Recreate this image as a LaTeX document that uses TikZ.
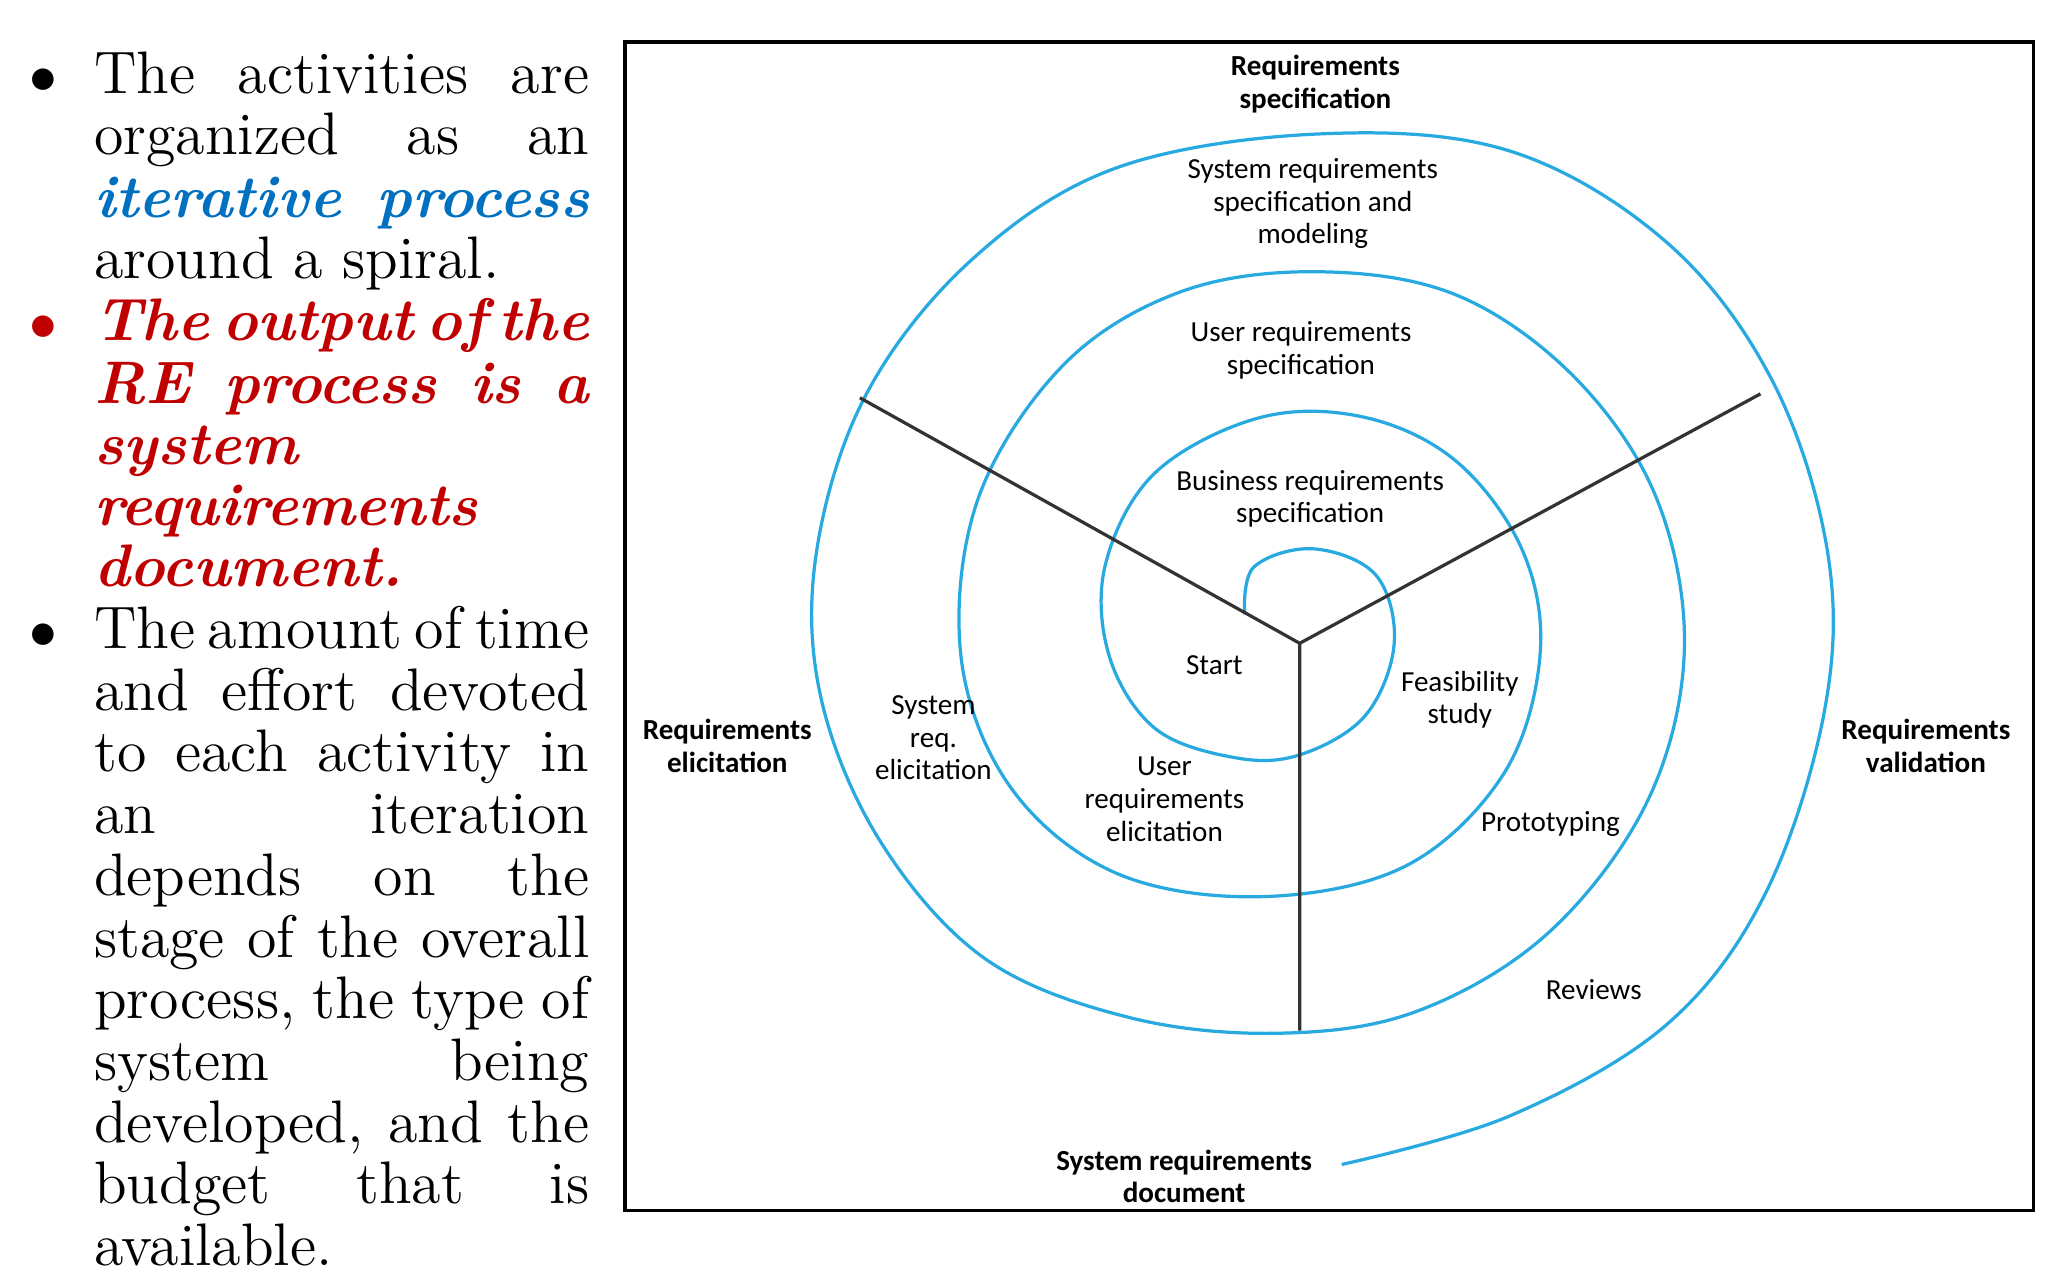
\documentclass[tikz,border=0pt]{standalone}
\usepackage{fontspec}
\newfontfamily\lab{Carlito}
\definecolor{spir}{RGB}{40,170,225}
\definecolor{iblue}{RGB}{0,112,192}
\definecolor{ired}{RGB}{192,0,0}
\begin{document}
\begin{tikzpicture}[x=0.01cm,y=-0.01cm,
 jl/.style={anchor=base west,inner sep=0,font=\fontsize{13}{14}\selectfont},
 lb/.style={font=\lab\fontsize{6.3}{7.1}\selectfont,align=center,inner sep=1pt},
 lbb/.style={lb,font=\lab\bfseries\fontsize{6.3}{7.1}\selectfont}]
\useasboundingbox (0,0) rectangle (1560,975);
\newcommand{\JL}[3]{\node[jl] at (71,#1+11) {\makebox[3.77cm][s]{#2}};}
\newcommand{\LL}[2]{\node[jl] at (71,#1+11) {#2};}
\node[jl] at (22,71) {$\bullet$};
\node[jl,text=ired] at (22,259) {$\bullet$};
\node[jl] at (22,494) {$\bullet$};
\JL{60}{The\hfill activities\hfill are}{}
\JL{107}{organized\hfill as\hfill an}{}
\JL{155}{\color{iblue}\bfseries\itshape iterative\hfill process}{}
\LL{201}{around a spiral.}
\JL{248}{\color{ired}\bfseries\itshape The\hfill output\hfill of\hfill the}{}
\JL{296}{\color{ired}\bfseries\itshape RE\hfill process\hfill is\hfill a}{}
\LL{343}{\color{ired}\bfseries\itshape system}
\LL{389}{\color{ired}\bfseries\itshape requirements}
\LL{436}{\color{ired}\bfseries\itshape document.}
\JL{483}{The\hfill amount\hfill of\hfill time}{}
\JL{530}{and\hfill effort\hfill devoted}{}
\JL{577}{to\hfill each\hfill activity\hfill in}{}
\JL{624}{an\hfill iteration}{}
\JL{671}{depends\hfill on\hfill the}{}
\JL{718}{stage\hfill of\hfill the\hfill overall}{}
\JL{765}{process,\hfill the\hfill type\hfill of}{}
\JL{812}{system\hfill being}{}
\JL{859}{developed,\hfill and\hfill the}{}
\JL{906}{budget\hfill that\hfill is}{}
\LL{953}{available.}
% frame
\draw[black,line width=0.7pt] (476,32) rectangle (1549,922);
% spiral
\coordinate (c) at (990,490);
\coordinate (l) at (655,303);
\coordinate (r) at (1341,300);
\coordinate (d) at (990,785);
\node[lbb] (doc) at (902,896) {System requirements\\document};
\draw[spir,line width=0.7pt] plot[smooth,tension=0.6] coordinates {(948,468) (955,432) (1000,418) (1048,438) (1062,490) (1040,545) (990,575) (940,577) (880,555) (845,500) (842,430) (880,360) (960,318) (1040,318) (1110,352) (1160,420) (1173,500) (1145,590) (1070,660) (960,683) (850,665) (770,600) (732,500) (745,380) (810,278) (900,222) (1005,207) (1110,225) (1200,288) (1262,380) (1283,495) (1255,610) (1180,710) (1080,770) (975,787) (860,775) (750,730) (670,640) (625,530) (622,420) (660,300) (740,198) (850,128) (1005,102) (1150,115) (1270,185) (1350,290) (1392,420) (1390,540) (1345,680) (1270,780) (1150,850) (1022,887)};
\draw[black!80,line width=0.7pt] (c) -- (l) (c) -- (r) (c) -- (d);
% labels
\node[lbb] at (1002,64) {Requirements\\specification};
\node[lbb] at (554,568) {Requirements\\elicitation};
\node[lbb] at (1467,568) {Requirements\\validation};
\node[lb] at (1000,155) {System requirements\\specification and\\modeling};
\node[lb] at (991,267) {User requirements\\specification};
\node[lb] at (998,380) {Business requirements\\specification};
\node[lb] at (925,507) {Start};
\node[lb] at (1112,533) {Feasibility\\study};
\node[lb] at (711,562) {System\\req.\\elicitation};
\node[lb] at (887,609) {User\\requirements\\elicitation};
\node[lb] at (1181,628) {Prototyping};
\node[lb] at (1214,754) {Reviews};
\end{tikzpicture}
\end{document}
